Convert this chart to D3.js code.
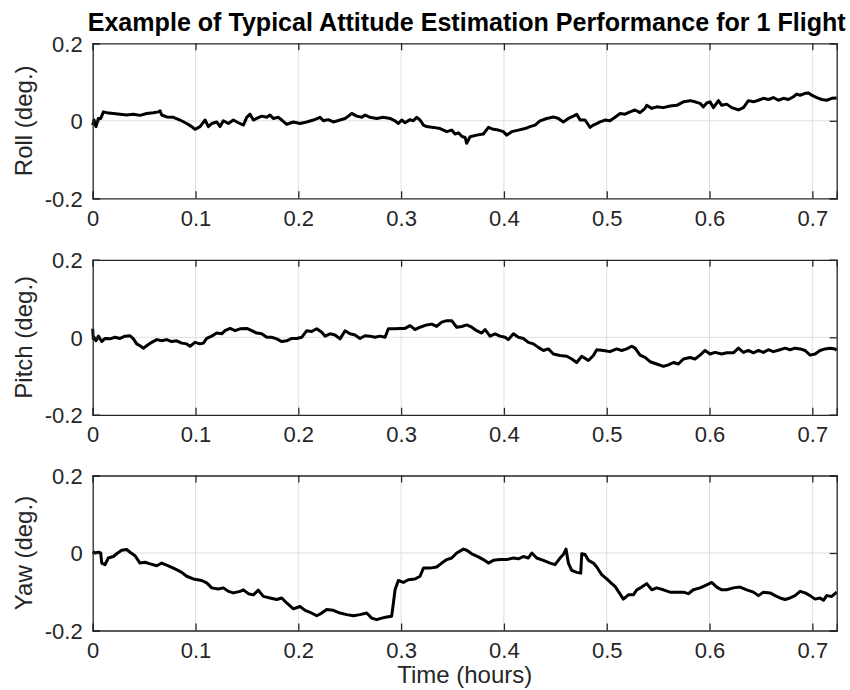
<!DOCTYPE html>
<html><head><meta charset="utf-8">
<script src="https://cdn.jsdelivr.net/npm/d3@7"></script>
<style>
html,body{margin:0;padding:0;background:#fff;}
svg{display:block;font-family:"Liberation Sans",Arial,Helvetica,sans-serif;}
</style></head>
<body><svg id="chart" width="850" height="690"></svg>
<script>
// ---------- data ----------
const title = "Example of Typical Attitude Estimation Performance for 1 Flight";
const xLabel = "Time (hours)";
const panelLabels = ["Roll (deg.)", "Pitch (deg.)", "Yaw (deg.)"];
const xTicks = [0, 0.1, 0.2, 0.3, 0.4, 0.5, 0.6, 0.7];
const yTicks = [-0.2, 0, 0.2];
const xDomain = [0, 0.7237];
const yDomain = [-0.2, 0.2];

const rollT = [0,0.0013,0.0032,0.0055,0.0078,0.0104,0.0136,0.0201,0.0266,0.0331,0.0396,0.046,0.0525,0.059,0.0639,0.0655,0.0671,0.072,0.0785,0.085,0.0914,0.0963,0.0995,0.1044,0.1093,0.1125,0.1158,0.1206,0.1239,0.1271,0.132,0.1368,0.1417,0.1466,0.1498,0.153,0.1563,0.1595,0.1644,0.1693,0.1725,0.1757,0.1806,0.1839,0.1887,0.1952,0.2017,0.2082,0.2147,0.2211,0.2244,0.2292,0.2341,0.2406,0.2455,0.2487,0.2519,0.2568,0.2617,0.2649,0.2698,0.2763,0.2827,0.2892,0.2941,0.2973,0.3006,0.3038,0.3087,0.3119,0.3152,0.3184,0.3217,0.3249,0.3314,0.3379,0.3444,0.3492,0.3525,0.3557,0.359,0.3622,0.3638,0.3671,0.3735,0.38,0.3849,0.3897,0.3946,0.3995,0.4027,0.4076,0.4141,0.4206,0.4254,0.4303,0.4351,0.4416,0.4481,0.453,0.4578,0.4627,0.4676,0.4708,0.4741,0.4789,0.4838,0.487,0.4903,0.4935,0.4984,0.5032,0.5081,0.513,0.5178,0.5227,0.5276,0.5324,0.5373,0.5389,0.5438,0.5486,0.5551,0.5616,0.5681,0.5746,0.5811,0.5859,0.5908,0.594,0.5973,0.6005,0.6038,0.6087,0.6119,0.6167,0.6216,0.6281,0.633,0.6378,0.6427,0.6476,0.6524,0.6573,0.6621,0.667,0.6719,0.6767,0.6816,0.6848,0.6881,0.693,0.6962,0.6994,0.7043,0.7092,0.714,0.7189,0.7237];
const rollV = [-0.011,0.002,-0.015,0.006,0.006,0.023,0.021,0.019,0.017,0.015,0.017,0.014,0.019,0.021,0.023,0.026,0.015,0.010,0.009,0.002,-0.007,-0.015,-0.022,-0.015,0.002,-0.015,-0.007,-0.003,-0.015,0,-0.007,0.002,-0.005,-0.011,0.009,0.017,0.002,0.006,0.012,0.009,0.015,0.006,0.009,0.002,-0.009,-0.003,-0.007,-0.003,0.002,0.009,0,0.003,-0.003,0.002,0.006,0.012,0.019,0.012,0.009,0.015,0.009,0.006,0.009,0.006,0,-0.007,0.002,-0.005,0.003,0,0.009,0.002,-0.011,-0.015,-0.017,-0.020,-0.028,-0.024,-0.034,-0.031,-0.040,-0.043,-0.058,-0.041,-0.037,-0.034,-0.017,-0.022,-0.024,-0.028,-0.037,-0.028,-0.024,-0.020,-0.015,-0.011,0,0.006,0.010,0.006,-0.003,0.006,0.012,0.017,0.002,0.002,-0.017,-0.011,-0.007,-0.003,0.002,0,0.009,0.019,0.017,0.023,0.028,0.021,0.032,0.040,0.032,0.036,0.034,0.038,0.040,0.049,0.052,0.049,0.045,0.036,0.046,0.049,0.034,0.052,0.040,0.043,0.034,0.028,0.034,0.052,0.049,0.053,0.058,0.055,0.060,0.053,0.058,0.055,0.062,0.069,0.066,0.071,0.072,0.066,0.060,0.055,0.053,0.058,0.059];

const pitchT = [0,0.0006,0.0013,0.0032,0.0055,0.0088,0.012,0.0169,0.0217,0.0266,0.0314,0.0363,0.0396,0.0428,0.046,0.0493,0.0525,0.0574,0.0623,0.0671,0.072,0.0768,0.0817,0.0866,0.0914,0.0947,0.0995,0.1044,0.1077,0.1109,0.1158,0.1206,0.1255,0.1287,0.1336,0.1385,0.1433,0.1498,0.1547,0.1595,0.1644,0.1693,0.1741,0.179,0.1839,0.1887,0.1936,0.1984,0.2033,0.2082,0.213,0.2179,0.2228,0.226,0.2309,0.2357,0.2406,0.2455,0.2503,0.2552,0.26,0.2649,0.2698,0.2746,0.2795,0.2844,0.2876,0.2941,0.299,0.3038,0.3087,0.3135,0.3184,0.3249,0.3298,0.3346,0.3395,0.3444,0.3492,0.3541,0.359,0.3638,0.3687,0.3735,0.3784,0.3817,0.3865,0.3914,0.3962,0.4011,0.4043,0.4092,0.4141,0.4189,0.4238,0.4287,0.4335,0.4384,0.4432,0.4481,0.4546,0.4611,0.466,0.4708,0.4757,0.4822,0.487,0.4903,0.4968,0.5032,0.5097,0.5146,0.5195,0.5243,0.5276,0.5324,0.5373,0.5422,0.5486,0.5551,0.56,0.5649,0.5697,0.5746,0.5811,0.5859,0.5908,0.5957,0.6005,0.6054,0.6119,0.6167,0.6232,0.6281,0.633,0.6378,0.6427,0.6476,0.6524,0.6573,0.6621,0.6686,0.6735,0.6783,0.6832,0.6881,0.693,0.6978,0.7027,0.7075,0.7124,0.7173,0.7221,0.7237];
const pitchV = [0.022,-0.004,0,-0.009,0.003,-0.011,-0.003,-0.004,0,-0.003,0.003,0.004,-0.004,-0.017,-0.022,-0.028,-0.022,-0.013,-0.006,-0.009,-0.006,-0.011,-0.009,-0.015,-0.017,-0.023,-0.013,-0.017,-0.015,-0.003,0.003,0.011,0.009,0.017,0.023,0.017,0.022,0.023,0.017,0.011,0.009,0,0,-0.004,-0.011,-0.009,-0.003,-0.003,0,0.017,0.015,0.022,0.013,0.003,0.009,0.006,-0.004,0.017,0.009,0.006,-0.003,0.004,0.003,0,0.003,0,0.022,0.022,0.023,0.023,0.030,0.020,0.026,0.032,0.034,0.028,0.039,0.043,0.043,0.026,0.028,0.032,0.026,0.017,0.011,0.020,0.003,0.009,0.003,0,-0.006,0.009,0,-0.003,-0.013,-0.017,-0.026,-0.034,-0.030,-0.043,-0.047,-0.049,-0.056,-0.065,-0.049,-0.060,-0.047,-0.032,-0.034,-0.037,-0.030,-0.034,-0.030,-0.023,-0.028,-0.046,-0.052,-0.063,-0.069,-0.075,-0.071,-0.065,-0.069,-0.056,-0.052,-0.056,-0.046,-0.034,-0.043,-0.039,-0.043,-0.040,-0.040,-0.028,-0.039,-0.034,-0.040,-0.034,-0.039,-0.032,-0.037,-0.032,-0.028,-0.032,-0.028,-0.030,-0.034,-0.046,-0.043,-0.034,-0.030,-0.028,-0.030,-0.034];

const yawT = [0,0.0023,0.0055,0.0078,0.0088,0.012,0.0152,0.0201,0.0233,0.0282,0.0331,0.0363,0.0412,0.046,0.0509,0.0558,0.0623,0.0671,0.0736,0.0801,0.0866,0.0914,0.0979,0.106,0.1109,0.1158,0.1222,0.1271,0.132,0.1368,0.1433,0.1466,0.1514,0.1563,0.1611,0.166,0.1725,0.179,0.1839,0.1887,0.1952,0.2017,0.2066,0.2114,0.2179,0.2228,0.2276,0.2341,0.2406,0.2471,0.2536,0.26,0.2665,0.2714,0.2763,0.2811,0.286,0.2908,0.2925,0.2941,0.2973,0.3022,0.307,0.3135,0.3184,0.3217,0.3281,0.3346,0.3395,0.3444,0.3492,0.3541,0.3606,0.3638,0.3687,0.3752,0.38,0.3849,0.3897,0.3962,0.4027,0.4092,0.4141,0.4189,0.4238,0.4271,0.4319,0.4384,0.4449,0.4497,0.4546,0.4578,0.4604,0.4627,0.4659,0.4708,0.4747,0.4757,0.4789,0.4822,0.487,0.4903,0.4951,0.5,0.5049,0.5081,0.5113,0.5162,0.5211,0.5259,0.5292,0.534,0.5389,0.5438,0.5486,0.5551,0.5616,0.5681,0.5746,0.5794,0.5843,0.5908,0.5973,0.6021,0.607,0.6119,0.6167,0.6232,0.6297,0.6362,0.6427,0.6476,0.6524,0.6589,0.6638,0.6686,0.6735,0.6783,0.6832,0.6881,0.693,0.6978,0.7027,0.7075,0.7108,0.714,0.7189,0.7237];
const yawV = [0.004,0,0.002,0,-0.026,-0.030,-0.013,-0.009,-0.002,0.007,0.009,0.002,-0.007,-0.026,-0.024,-0.028,-0.033,-0.026,-0.033,-0.041,-0.050,-0.060,-0.067,-0.071,-0.077,-0.090,-0.093,-0.090,-0.099,-0.103,-0.099,-0.095,-0.105,-0.108,-0.096,-0.112,-0.116,-0.120,-0.116,-0.129,-0.144,-0.138,-0.148,-0.153,-0.162,-0.155,-0.146,-0.148,-0.155,-0.159,-0.162,-0.159,-0.155,-0.168,-0.172,-0.168,-0.165,-0.163,-0.129,-0.095,-0.071,-0.076,-0.069,-0.067,-0.060,-0.039,-0.039,-0.036,-0.026,-0.017,-0.013,0,0.010,0.007,-0.002,-0.010,-0.017,-0.026,-0.019,-0.017,-0.017,-0.013,-0.015,-0.009,-0.013,0,-0.013,-0.019,-0.026,-0.030,-0.013,-0.004,0.010,-0.026,-0.045,-0.050,-0.052,-0.002,-0.004,-0.019,-0.026,-0.036,-0.056,-0.067,-0.079,-0.086,-0.099,-0.119,-0.108,-0.108,-0.095,-0.088,-0.079,-0.095,-0.090,-0.095,-0.101,-0.101,-0.101,-0.105,-0.095,-0.090,-0.082,-0.076,-0.088,-0.095,-0.095,-0.090,-0.088,-0.095,-0.101,-0.110,-0.101,-0.103,-0.110,-0.116,-0.120,-0.116,-0.110,-0.099,-0.103,-0.110,-0.119,-0.116,-0.122,-0.110,-0.112,-0.101];

const panels = [
  {label: panelLabels[0], t: rollT, v: rollV},
  {label: panelLabels[1], t: pitchT, v: pitchV},
  {label: panelLabels[2], t: yawT, v: yawV}
];

// ---------- layout ----------
const svg = d3.select("#chart");
const left = 92.7, right = 836.7;
const tops = [43.3, 259.8, 475.5];
const ph = 155;
const axisColor = "#262626";
const gridColor = "#dfdfdf";
const tickLen = 7;
const fontFam = "Liberation Sans, Arial, sans-serif";

const x = d3.scaleLinear().domain(xDomain).range([left, right]);
const fmt = d => d === 0 ? "0" : (d < 0 ? "-" : "") + d3.format(".1f")(Math.abs(d));

svg.append("text")
  .attr("x", (left + right) / 2 + 2).attr("y", 30.5)
  .attr("text-anchor", "middle")
  .attr("font-size", 25).attr("font-weight", "bold").attr("fill", "#000")
  .attr("textLength", 758).attr("lengthAdjust", "spacingAndGlyphs")
  .text(title);

panels.forEach((p, i) => {
  const top = tops[i], bottom = top + ph;
  const y = d3.scaleLinear().domain(yDomain).range([bottom, top]);
  const g = svg.append("g");

  // grid
  g.selectAll(".gx").data(xTicks.filter(d => d > 0)).enter().append("line")
    .attr("x1", d => x(d)).attr("x2", d => x(d))
    .attr("y1", top).attr("y2", bottom)
    .attr("stroke", gridColor).attr("stroke-width", 1);
  g.selectAll(".gy").data(yTicks.filter(d => d > yDomain[0] && d < yDomain[1])).enter().append("line")
    .attr("x1", left).attr("x2", right)
    .attr("y1", d => y(d)).attr("y2", d => y(d))
    .attr("stroke", gridColor).attr("stroke-width", 1);

  // data line
  const data = p.t.map((t, k) => [t, p.v[k]]);
  g.append("path").datum(data)
    .attr("fill", "none").attr("stroke", "#000").attr("stroke-width", 3)
    .attr("stroke-linejoin", "round")
    .attr("d", d3.line().x(d => x(d[0])).y(d => y(d[1])));

  // axes (inside ticks)
  const xb = d3.axisBottom(x).tickValues(xTicks).tickSize(-tickLen).tickFormat(fmt).tickPadding(12);
  const xt = d3.axisTop(x).tickValues(xTicks).tickSize(-tickLen).tickFormat("");
  const yl = d3.axisLeft(y).tickValues(yTicks).tickSize(-tickLen).tickFormat(fmt).tickPadding(10);
  const yr = d3.axisRight(y).tickValues(yTicks).tickSize(-tickLen).tickFormat("");

  const axB = g.append("g").attr("transform", `translate(0,${bottom})`).call(xb);
  const axT = g.append("g").attr("transform", `translate(0,${top})`).call(xt);
  const axL = g.append("g").attr("transform", `translate(${left},0)`).call(yl);
  const axR = g.append("g").attr("transform", `translate(${right},0)`).call(yr);
  [axB, axT, axL, axR].forEach(a => {
    a.select(".domain").attr("stroke", axisColor).attr("stroke-width", 1.3);
    a.selectAll(".tick line").attr("stroke", axisColor).attr("stroke-width", 1.3);
    a.selectAll(".tick text").attr("fill", axisColor)
      .attr("font-size", 22).attr("font-family", fontFam);
  });
  axB.selectAll(".tick text").attr("dy", "0.71em");
  axL.selectAll(".tick text").attr("dy", "0.36em");

  // y label
  svg.append("text")
    .attr("transform", `translate(31.7,${(top + bottom) / 2}) rotate(-90)`)
    .attr("text-anchor", "middle")
    .attr("font-size", 24).attr("fill", axisColor)
    .text(p.label);
});

svg.append("text")
  .attr("x", (left + right) / 2).attr("y", 683)
  .attr("text-anchor", "middle")
  .attr("font-size", 24).attr("fill", axisColor)
  .text(xLabel);
</script></body></html>
